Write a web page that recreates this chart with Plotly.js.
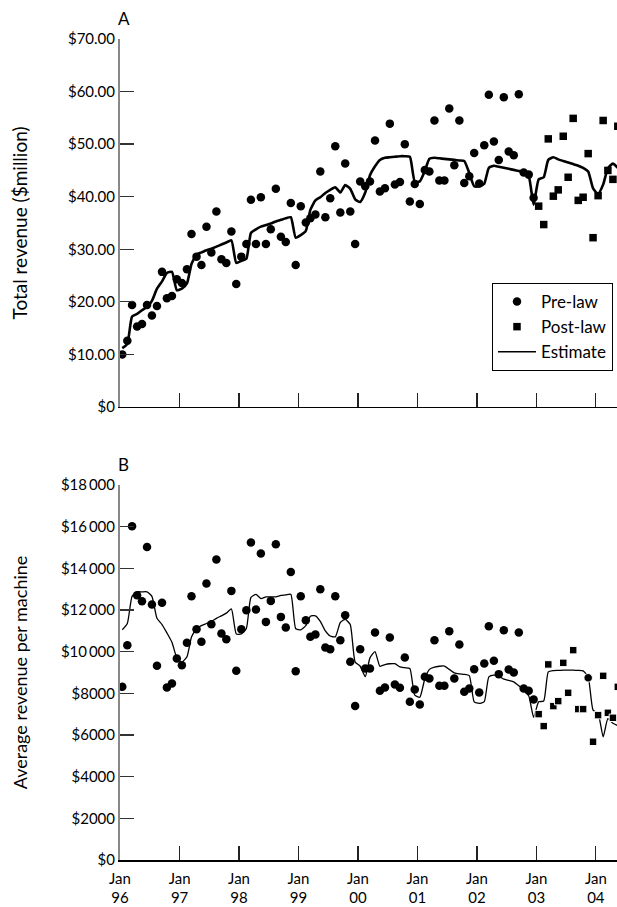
<!DOCTYPE html>
<html><head><meta charset="utf-8">
<script src="https://cdn.plot.ly/plotly-3.0.1.min.js"></script>
<style>html,body{margin:0;padding:0;background:#fff}#chart{width:617px;height:907px}</style>
</head><body><div id="chart"></div>
<script>
// Monthly observations, pre-law Jan 1996 - Dec 2002, post-law Jan 2003 - May 2004
const preStart = [1996, 1];
const postStart = [2003, 1];

// Panel A: total revenue ($ million)
const preRevenue = [
  10.0, 12.6, 19.4, 15.3, 15.8, 19.4, 17.4, 19.2, 25.7, 20.7, 21.1, 24.3,
  23.6, 26.2, 32.9, 28.6, 27.0, 34.3, 29.4, 37.2, 28.1, 27.4, 33.4, 23.4,
  28.6, 31.0, 39.4, 31.0, 39.9, 31.0, 33.8, 41.5, 32.4, 31.4, 38.8, 27.0,
  38.2, 35.1, 35.9, 36.6, 44.8, 36.1, 39.7, 49.6, 37.0, 46.3, 37.2, 31.0,
  42.9, 42.0, 42.9, 50.7, 41.0, 41.6, 53.9, 42.3, 42.8, 50.0, 39.1, 42.4,
  38.6, 45.1, 44.8, 54.5, 43.1, 43.1, 56.8, 46.0, 54.5, 42.6, 43.9, 48.3,
  42.5, 49.8, 59.4, 50.5, 47.0, 58.9, 48.6, 47.9, 59.5, 44.6, 44.2, 39.8
];
const postRevenue = [38.2, 34.7, 51.0, 40.1, 41.3, 51.5, 43.7, 54.9, 39.3, 39.9, 48.2, 32.2, 40.2, 54.5, 45.0, 43.3, 53.4];
const estRevenue = [
  11.2, 12.0, 17.2, 17.7, 18.4, 19.0, 20.2, 22.5, 23.9, 25.5, 25.7, 22.2,
  22.5, 23.5, 27.2, 29.0, 29.4, 29.8, 30.1, 30.5, 30.9, 31.3, 31.7, 27.4,
  27.8, 28.2, 33.1, 33.8, 34.3, 34.6, 34.9, 35.3, 35.6, 35.9, 36.1, 32.2,
  32.7, 33.5, 37.5, 39.3, 39.9, 40.7, 41.3, 41.8, 40.8, 42.2, 41.5, 39.5,
  39.0, 40.8, 44.1, 45.8, 47.0, 47.4, 47.5, 47.6, 47.7, 47.7, 47.6, 42.9,
  42.9, 44.9, 47.2, 47.4, 47.3, 47.2, 47.1, 47.0, 46.9, 46.8, 44.5, 42.0,
  42.0, 42.5, 45.5, 45.9, 45.7, 45.5, 45.3, 45.1, 44.9, 44.7, 43.9, 38.5,
  43.3, 43.7, 47.0, 47.5, 47.1, 46.8, 46.5, 46.2, 45.9, 45.5, 44.8, 41.6,
  40.5, 42.3, 45.4, 46.3, 45.5
];

// Panel B: average revenue per machine ($)
const prePerMachine = [
  8313, 10311, 16019, 12709, 12421, 15027, 12263, 9318, 12343, 8282, 8474, 9673,
  9352, 10422, 12661, 11079, 10470, 13271, 11318, 14422, 10873, 10599, 12917, 9079,
  11079, 11990, 15237, 12023, 14710, 11429, 12437, 15155, 11669, 11160, 13826, 9064,
  12661, 11510, 10710, 10822, 12997, 10201, 10120, 12661, 10551, 11750, 9511, 7386,
  10120, 9194, 9194, 10918, 8120, 8282, 10678, 8426, 8265, 9721, 7592, 8187,
  7467, 8791, 8713, 10551, 8359, 8359, 10983, 8713, 10343, 8073, 8234, 9160,
  8042, 9433, 11222, 9558, 8921, 11030, 9146, 9002, 10918, 8234, 8120, 7707
];
const postPerMachine = [7002, 6427, 9386, 7386, 7626, 9462, 8024, 10072, 7242, 7242, 8745, 5674, 6954, 8839, 7064, 6825, 8311];
const estPerMachine = [
  11050, 11350, 12650, 12870, 12870, 12870, 12650, 11600, 11300, 10900, 10450, 9700,
  9500, 9750, 10700, 11120, 11250, 11350, 11450, 11600, 11720, 11850, 12050, 10850,
  10850, 11110, 12600, 12750, 12550, 12630, 12630, 12630, 12700, 12720, 12750, 11100,
  11050, 11250, 11700, 11720, 11450, 11000, 10750, 10710, 11400, 11550, 11300, 9500,
  9300, 8800, 9700, 10000, 9300, 9380, 9420, 9420, 9270, 9230, 9190, 7910,
  7810, 8700, 9150, 9260, 9300, 9310, 9150, 8980, 8930, 8910, 8850, 7590,
  7520, 7600, 8790, 8870, 8820, 8680, 8620, 8550, 8360, 8150, 7880, 6850,
  7590, 7630, 9030, 9090, 9100, 9110, 9110, 9110, 9100, 9080, 8800, 7190,
  7040, 5910, 6780, 6560, 6450
];

const yearTicks = ['1996-01-01','1997-01-01','1998-01-01','1999-01-01','2000-01-01','2001-01-01','2002-01-01','2003-01-01','2004-01-01'];
const yearTickLabels = ['Jan<br>96','Jan<br>97','Jan<br>98','Jan<br>99','Jan<br>00','Jan<br>01','Jan<br>02','Jan<br>03','Jan<br>04'];
const revTicks = [0, 10, 20, 30, 40, 50, 60, 70];
const revTickLabels = ['$0','$10.00','$20.00','$30.00','$40.00','$50.00','$60.00','$70.00'];
const pmTicks = [0, 2000, 4000, 6000, 8000, 10000, 12000, 14000, 16000, 18000];
const pmTickLabels = ['$0','$2000','$4000','$6000','$8000','$10\u2009000','$12\u2009000','$14\u2009000','$16\u2009000','$18\u2009000'];

function monthDates(start, n) {
  const out = [];
  let y = start[0], m = start[1];
  for (let i = 0; i < n; i++) {
    out.push(y + '-' + String(m).padStart(2, '0') + '-15');
    m++; if (m > 12) { m = 1; y++; }
  }
  return out;
}
const preDates = monthDates(preStart, preRevenue.length);
const postDates = monthDates(postStart, postRevenue.length);
const estDates = monthDates(preStart, estRevenue.length);

const FONT = 'Lato, "Open Sans", sans-serif';
const postSymbols = postPerMachine.map((v, i) => i === 10 ? 'circle' : 'square');
const postSizes = postPerMachine.map((v, i) => i === 10 ? 8.5 : 7.5);

const traces = [
  {x: estDates, y: estRevenue, xaxis: 'x', yaxis: 'y', mode: 'lines', name: 'Estimate',
   line: {color: '#000', width: 2.6, shape: 'spline', smoothing: 0.5}, showlegend: false},
  {x: preDates, y: preRevenue, xaxis: 'x', yaxis: 'y', mode: 'markers', name: 'Pre-law',
   marker: {symbol: 'circle', size: 8.5, color: '#000', opacity: 1}, legendrank: 1},
  {x: postDates, y: postRevenue, xaxis: 'x', yaxis: 'y', mode: 'markers', name: 'Post-law',
   marker: {symbol: 'square', size: 7.5, color: '#000', opacity: 1}, legendrank: 2},
  {x: estDates, y: estPerMachine, xaxis: 'x2', yaxis: 'y2', mode: 'lines', name: 'Estimate',
   line: {color: '#000', width: 1.3, shape: 'spline', smoothing: 0.5}, legendrank: 3},
  {x: preDates, y: prePerMachine, xaxis: 'x2', yaxis: 'y2', mode: 'markers', name: 'Pre-law',
   marker: {symbol: 'circle', size: 8.5, color: '#000', opacity: 1}, showlegend: false},
  {x: postDates, y: postPerMachine, xaxis: 'x2', yaxis: 'y2', mode: 'markers', name: 'Post-law',
   marker: {symbol: postSymbols, size: postSizes, color: '#000', opacity: 1}, showlegend: false}
];

const xCommon = {
  type: 'date', range: ['1996-01-01', '2004-05-10'],
  tickvals: yearTicks, ticktext: yearTickLabels,
  ticks: 'inside', ticklen: 14, tickwidth: 1.3, tickcolor: '#222',
  showline: true, linecolor: '#000', linewidth: 1.5,
  showgrid: false, zeroline: false, fixedrange: true, ticklabelstandoff: 4,
  tickfont: {family: FONT, size: 15, color: '#000'}
};
const yCommon = {
  ticks: 'inside', ticklen: 14, tickwidth: 1.3, tickcolor: '#333',
  showline: true, linecolor: '#888', linewidth: 2,
  showgrid: false, zeroline: false, fixedrange: true,
  tickfont: {family: FONT, size: 15, color: '#000'}
};

const layout = {
  width: 617, height: 907,
  margin: {l: 120, r: 0, t: 39, b: 47, autoexpand: false},
  paper_bgcolor: '#fff', plot_bgcolor: '#fff',
  font: {family: FONT, color: '#000'},
  showlegend: true,
  legend: {x: 0.7485, y: 0.7028, xanchor: 'left', yanchor: 'top',
           bordercolor: '#000', borderwidth: 1, bgcolor: '#fff', itemwidth: 38,
           font: {family: FONT, size: 17, color: '#000'}},
  xaxis: Object.assign({}, xCommon, {anchor: 'y', showticklabels: false}),
  xaxis2: Object.assign({}, xCommon, {anchor: 'y2'}),
  yaxis: Object.assign({}, yCommon, {domain: [0.5518, 1], range: [0, 70], anchor: 'x',
     tickvals: revTicks, ticktext: revTickLabels,
     title: {text: 'Total revenue ($million)', standoff: 35, font: {family: FONT, size: 19}}}),
  yaxis2: Object.assign({}, yCommon, {domain: [0, 0.4568], range: [0, 18000], anchor: 'x2',
     tickvals: pmTicks, ticktext: pmTickLabels,
     title: {text: 'Average revenue per machine', standoff: 29, font: {family: FONT, size: 18}}}),
  annotations: [
    {text: 'A', xref: 'paper', yref: 'y domain', x: 0, y: 1, xanchor: 'left', yanchor: 'bottom',
     xshift: -4, yshift: 8, showarrow: false, font: {family: FONT, size: 17}},
    {text: 'B', xref: 'paper', yref: 'y2 domain', x: 0, y: 1, xanchor: 'left', yanchor: 'bottom',
     xshift: -4, yshift: 8, showarrow: false, font: {family: FONT, size: 17}}
  ]
};

Plotly.newPlot('chart', traces, layout, {staticPlot: true, displayModeBar: false});
</script>
</body></html>
